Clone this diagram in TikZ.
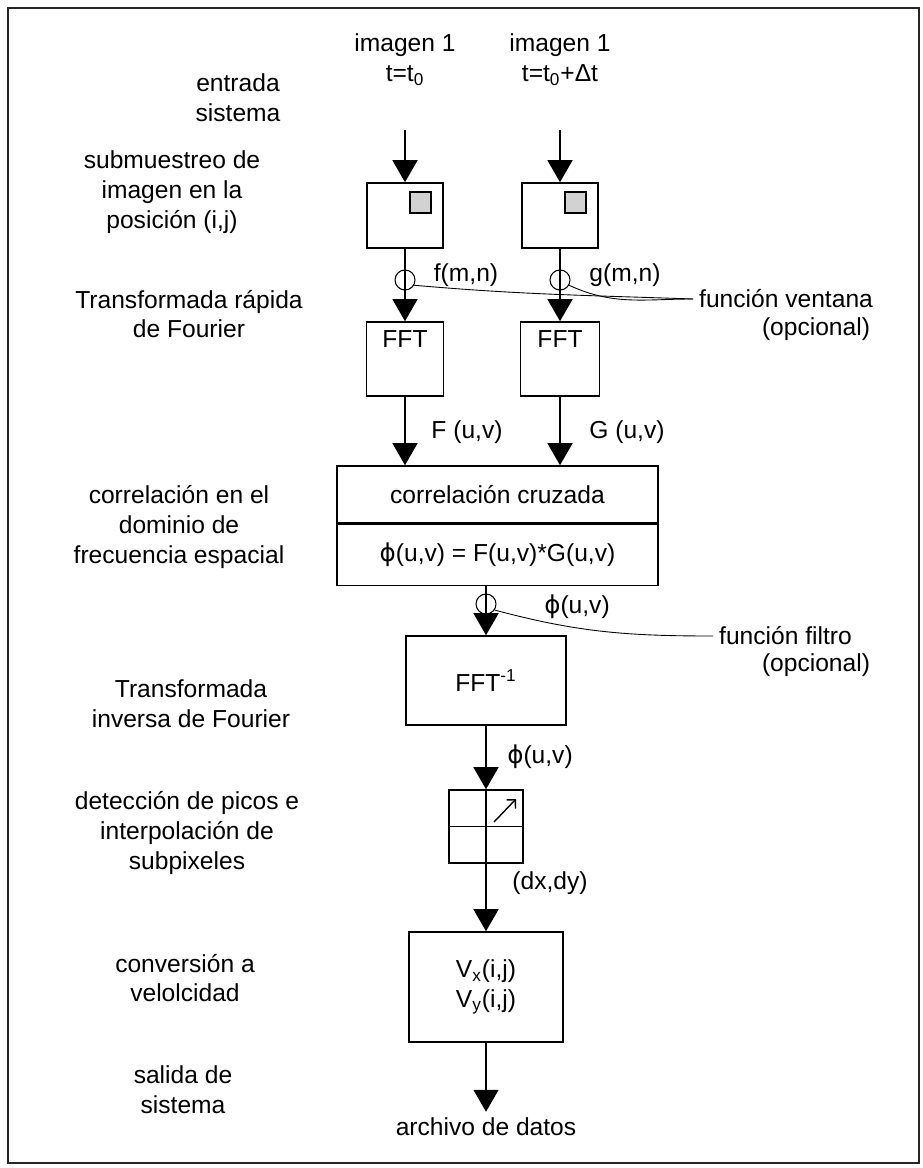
\documentclass[tikz,border=0pt]{standalone}
\usepackage{fontspec}
\setmainfont{Liberation Sans}
\newfontfamily\symfont{DejaVu Sans}
\newcommand{\fii}{{\symfont ϕ}}
\usetikzlibrary{arrows.meta,positioning}

\begin{document}
\begin{tikzpicture}[
    x=0.02cm, y=-0.02cm,
    font=\fontsize{14}{17}\selectfont,
    flow/.style={
        -{Triangle[length=0.44cm, width=0.5cm]}, line width=0.8pt
    },
    procbox/.style={
        draw, line width=0.9pt, inner sep=0pt, align=center
    },
    patch/.style={
        draw, line width=0.8pt, fill=gray!35,
        minimum size=0.42cm, inner sep=0pt
    },
    tap/.style={
        circle, draw, line width=0.6pt, minimum size=0.4cm, inner sep=0pt
    },
    lead/.style={line width=0.5pt},
    side/.style={align=center},
    sig/.style={inner sep=1pt},
]

% ── Frame ──
\useasboundingbox (0,0) rectangle (922,1168);
\draw[line width=1.1pt, black!85] (8,8) rectangle (919,1163);

% ── Left column ──
\node[side] (lblin)   at (238,98)   {entrada\\sistema};
\node[side] (lblsub)  at (172,192)  {submuestreo de\\imagen en la\\posición (i,j)};
\node[side] (lblfft)  at (189,314)  {Transformada rápida\\de Fourier};
\node[side] (lblcorr) at (179,527)  {correlación en el\\dominio de\\frecuencia espacial};
\node[side] (lblinv)  at (191,704)  {Transformada\\inversa de Fourier};
\node[side] (lblpeak) at (187,833)  {detección de picos e\\interpolación de\\subpixeles};
\node[side] (lblvel)  at (185,978)  {conversión a\\velolcidad};
\node[side] (lblout)  at (183,1090) {salida de\\sistema};

% ── Inputs ──
\node[side] (img1) at (405,60) {imagen 1\\t=t\textsubscript{0}};
\node[side] (img2) at (560,60) {imagen 1\\t=t\textsubscript{0}+Δt};

% ── Subsampling ──
\node[procbox, minimum width=1.52cm, minimum height=1.3cm] (sub1) at (405,215.5) {};
\node[procbox, minimum width=1.52cm, minimum height=1.3cm] (sub2) at (560,215.5) {};
\node[patch, below left=0.18cm and 0.24cm of sub1.north east] (pat1) {};
\node[patch, below left=0.18cm and 0.24cm of sub2.north east] (pat2) {};

\draw[flow] ([yshift=-0.76cm]img1.south) -- (sub1.north);
\draw[flow] ([yshift=-0.76cm]img2.south) -- (sub2.north);

% ── FFT ──
\node[procbox, minimum width=1.54cm, minimum height=1.48cm,
      label={[name=fft1t, anchor=north, inner sep=5pt]north:FFT}] (fft1) at (405,359) {};
\node[procbox, minimum width=1.58cm, minimum height=1.48cm,
      label={[name=fft2t, anchor=north, inner sep=5pt]north:FFT}] (fft2) at (560,359) {};

\draw[flow] (sub1.south) -- (fft1.north);
\draw[flow] (sub2.south) -- (fft2.north);

% ── Window function ──
\node[tap] (win1) at (405,280) {};
\node[tap] (win2) at (560,280) {};
\node[sig] (fmn) at (466,275) {f(m,n)};
\node[sig] (gmn) at (625,275) {g(m,n)};
\node[anchor=west] (ventana) at (693,299) {función ventana};
\node (ventanaopt) at (816,329) {(opcional)};
\draw[lead] (win1.-30) to[out=-5, in=178] (ventana.west);
\draw[lead] (win2.-30) to[out=-25, in=180] (ventana.west);

% ── Cross correlation ──
\node[procbox, minimum width=6.42cm, minimum height=1.14cm] (corrtop) at (497.5,494.5) {correlación cruzada};
\node[procbox, minimum width=6.42cm, minimum height=1.22cm, below=0pt of corrtop] (corrbot)
    {\fii(u,v) = F(u,v)*G(u,v)};

\draw[flow] (fft1.south) -- (fft1.south |- corrtop.north);
\draw[flow] (fft2.south) -- (fft2.south |- corrtop.north);
\node[sig] (Fuv) at (467,432) {F (u,v)};
\node[sig] (Guv) at (627,432) {G (u,v)};

% ── Inverse FFT ──
\node[procbox, minimum width=3.2cm, minimum height=1.78cm] (inv) at (486,680.5) {FFT\textsuperscript{-1}};
\node[tap] (filt) at (486,604) {};
\node[sig] (phi1) at (577,607) {\fii(u,v)};
\node[anchor=west] (filtro) at (713,636) {función filtro};
\node (filtroopt) at (816,665) {(opcional)};

\draw[flow] (inv.north |- corrbot.south) -- (inv.north);
\draw[lead] (filt.-35) to[out=-15, in=180] (filtro.west);

% ── Peak detection ──
\node[procbox, minimum width=1.48cm, minimum height=1.46cm] (grid) at (486,826.5) {};
\draw[line width=0.8pt] (grid.west) -- (grid.east);
\draw[line width=0.8pt] (grid.north) -- (grid.south);
\draw[line width=0.8pt, -{Straight Barb[angle=90:5pt]}]
    ([shift={(0.16cm,0.09cm)}]grid.center) -- ([shift={(0.6cm,0.55cm)}]grid.center);

\draw[flow] (inv.south) -- (grid.north);
\node[sig] (phi2) at (540,757) {\fii(u,v)};

% ── Velocity ──
\node[procbox, minimum width=3.08cm, minimum height=2.2cm] (vel) at (486,987)
    {V\textsubscript{x}(i,j)\\V\textsubscript{y}(i,j)};
\draw[flow] (grid.south) -- (vel.north);
\node[sig] (dxdy) at (550,883) {(dx,dy)};

% ── Output ──
\node (datos) at (486,1127) {archivo de datos};
\draw[flow] (vel.south) -- (datos.north);

\end{tikzpicture}
\end{document}
